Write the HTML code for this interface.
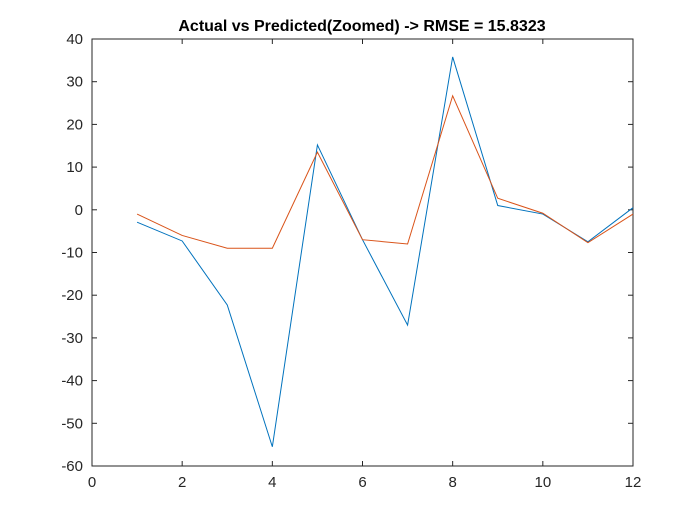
<!DOCTYPE html>
<html><head><meta charset="utf-8"><style>
body{margin:0;background:#fff;}
svg{display:block;font-family:"Liberation Sans",Arial,sans-serif;}
</style></head><body>
<svg id="chart" width="700" height="525"></svg>
<script>
const xTicks=[0,2,4,6,8,10,12];
const yTicks=[-60,-50,-40,-30,-20,-10,0,10,20,30,40];
const xs=[1,2,3,4,5,6,7,8,9,10,11,12];
const actual=[-2.9,-7.3,-22.3,-55.5,15.2,-7,-27,35.8,1,-1,-7.5,0.5];
const predicted=[-1,-6,-9,-9,13.5,-7,-8,26.7,2.7,-0.8,-7.7,-1];
const NS="http://www.w3.org/2000/svg";
const svg=document.getElementById('chart');
const L=92,R=633,T=39,B=466;
const sx=v=>L+(v-0)/12*(R-L);
const sy=v=>B-(v+60)/100*(B-T);
function mk(tag,attrs,parent){const e=document.createElementNS(NS,tag);for(const k in attrs)e.setAttribute(k,attrs[k]);(parent||svg).appendChild(e);return e;}
const box=mk('rect',{x:L,y:T,width:R-L,height:B-T,fill:'#fff',stroke:'#262626','stroke-width':1});


xTicks.forEach(t=>{
  const x=sx(t);
  mk('line',{x1:x,x2:x,y1:B,y2:B-5,stroke:'#262626'});
  mk('line',{x1:x,x2:x,y1:T,y2:T+5,stroke:'#262626'});
  const tx=mk('text',{x:x,y:B+21,'text-anchor':'middle','font-size':15,fill:'#262626'});
  tx.textContent=t;
  
  
});
yTicks.forEach(t=>{
  const y=sy(t);
  mk('line',{x1:L,x2:L+5,y1:y,y2:y,stroke:'#262626'});
  mk('line',{x1:R,x2:R-5,y1:y,y2:y,stroke:'#262626'});
  const tx=mk('text',{x:L-9,y:y+5,'text-anchor':'end','font-size':15,fill:'#262626'});
  tx.textContent=t;
  
  
});
function series(vals,color,name){
  const p=mk('polyline',{points:xs.map((x,i)=>sx(x)+','+sy(vals[i])).join(' '),fill:'none',stroke:color,'stroke-width':1});
  
  
}
series(actual,'#0072BD','actual-line');
series(predicted,'#D95319','predicted-line');
const title=mk('text',{x:362,y:31,'text-anchor':'middle','font-size':16,'font-weight':'bold',fill:'#000'});
title.textContent='Actual vs Predicted(Zoomed) -> RMSE = 15.8323';


</script>
</body></html>
